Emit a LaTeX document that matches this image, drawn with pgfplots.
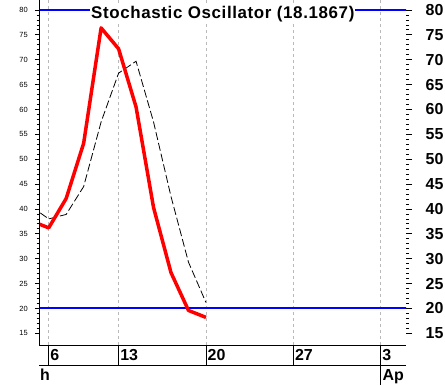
\documentclass[border=0pt]{standalone}
\usepackage{pgfplots}
\pgfplotsset{compat=1.18}
\usepackage{fontspec}
\setmainfont{Liberation Sans}
\definecolor{gridgray}{RGB}{185,185,185}
\begin{document}
\begin{tikzpicture}[x=1bp,y=1bp]
\useasboundingbox (0,0) rectangle (445,385);
\pgfplotsset{base/.style={at={(39bp,40bp)}, anchor=south west, scale only axis,
  width=367bp, height=345bp, xmin=-0.555, xmax=20.45, ymin=12.65, ymax=82.01,
  /pgf/number format/assume math mode=true}}
% main axis: data, grid, x ticks
\begin{axis}[base, axis x line*=bottom, axis y line*=left, ytick=\empty,
  xtick={0,4,9,14,19}, xticklabels={6,13,20,27,3},
  tick align=outside, major tick length=20bp,
  xmajorgrids, grid style={gridgray, dash pattern=on 3bp off 3bp, line width=0.7bp},
  xticklabel style={font=\bfseries\fontsize{16}{16}\selectfont, anchor=west, inner sep=0pt, xshift=1.5bp, yshift=10bp},
  axis line style={line width=0.8bp}, tick style={black, line width=0.8bp}]
\addplot[blue, line width=2bp] coordinates {(-1,80) (21,80)};
\addplot[blue, line width=2bp] coordinates {(-1,20) (21,20)};
\addplot[black, line width=0.8bp, dash pattern=on 8bp off 3bp] coordinates {(-1,40.5) (0,38.0) (1,38.9) (2,44.5) (3,57.5) (4,67.3) (5,69.7) (6,57.5) (7,42.5) (8,29.3) (9,21.2)};
\addplot[red, line width=3.5bp, line join=round] coordinates {(-1,37.6) (0,36.2) (1,42.1) (2,53.2) (3,76.4) (4,72.2) (5,60.5) (6,40.3) (7,27.2) (8,19.6) (9,18.2)};
\end{axis}
% left y axis
\begin{axis}[base, axis y line*=left, axis x line=none,
  ytick={15,20,...,80}, minor y tick num=4, tick align=outside,
  major tick length=4bp, minor tick length=2.5bp,
  yticklabel style={font=\fontsize{7.5}{8}\selectfont, anchor=east, inner sep=0pt, xshift=-7bp},
  axis line style={line width=0.8bp}, tick style={black, line width=0.8bp}]
\end{axis}
% right y axis
\begin{axis}[base, axis y line*=right, axis x line=none,
  y axis line style={draw=none},
  ytick={15,20,...,80}, minor y tick num=4, tick align=outside,
  major tick length=6bp, minor tick length=3bp,
  yticklabel style={font=\bfseries\fontsize{16}{16}\selectfont, anchor=west, inner sep=0pt, xshift=13.5bp},
  tick style={black, line width=0.8bp}]
\end{axis}
\draw[line width=0.8bp] (39,20) -- (406,20);
\draw[line width=0.8bp] (380.66,40) -- (380.66,0);
\node[anchor=base west, inner sep=0pt, font=\bfseries\fontsize{16}{16}\selectfont] at (40,4.3) {h};
\node[anchor=base west, inner sep=0pt, font=\bfseries\fontsize{16}{16}\selectfont] at (382.5,4.3) {Ap};
\node[fill=white, inner sep=1bp, anchor=base, font=\bfseries\fontsize{17}{17}\selectfont\addfontfeature{LetterSpace=3.7}] at (222.8,366.7) {Stochastic Oscillator (18.1867)};
\end{tikzpicture}
\end{document}
